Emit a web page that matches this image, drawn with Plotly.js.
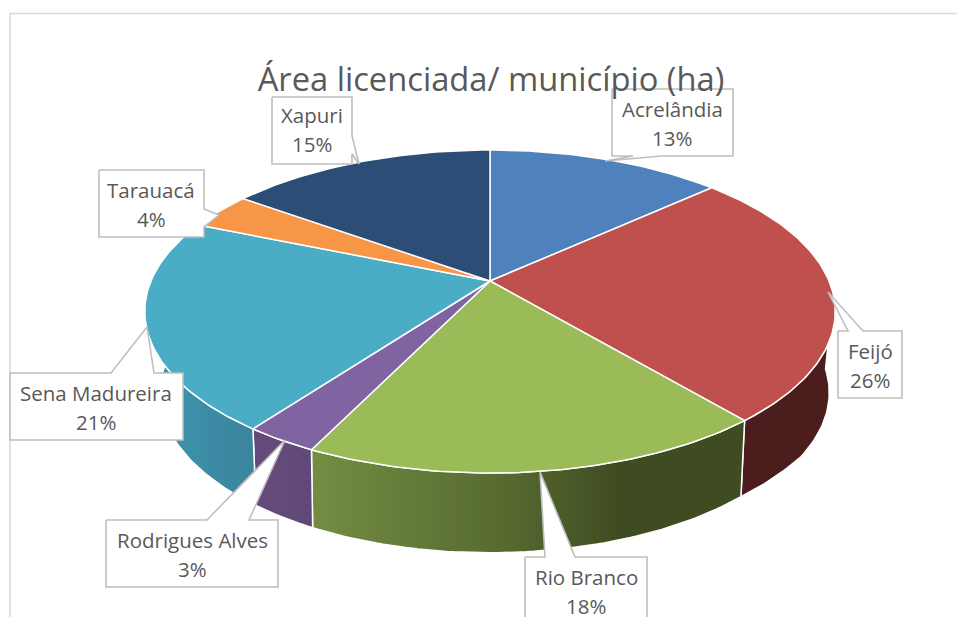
<!DOCTYPE html>
<html>
<head>
<meta charset="utf-8">
<script src="https://cdn.plot.ly/plotly-3.0.1.min.js"></script>
<style>html,body{margin:0;padding:0;background:#fff;overflow:hidden}#chart{width:957px;height:617px}</style>
</head>
<body>
<div id="chart"></div>
<script>
// ---- data ----
const categories = ['Acrelândia', 'Feijó', 'Rio Branco', 'Rodrigues Alves', 'Sena Madureira', 'Tarauacá', 'Xapuri'];
const shares = [13.2, 25.7, 18.3, 2.9, 21.2, 3.7, 15.0];
const topColors = ['#4f81bd', '#c0504d', '#9bbb59', '#8064a2', '#4bacc6', '#f79646', '#2c4d75'];

// ---- perspective of the pie, in plot units (axes run 0-957 / 617-0) ----
const topDisc = {cx: 490, cy: 281, f: 339, g: 155.7, k: 0.189};
const lowDisc = {cx: 490, cy: 355.5, f: 321, g: 151.5, k: 0.232, bulge: 9};
function project(d, deg) {
  const t = deg * Math.PI / 180, w = 1 + d.k * Math.cos(t);
  // the far right of the lower rim sits slightly further out in the picture
  const extra = d.bulge && deg < 140.4 ? d.bulge * Math.min(1, (140.4 - deg) / 15) : 0;
  return [d.cx + (d.f + extra) * Math.sin(t) / w, d.cy - d.g * Math.cos(t) / w];
}
function arc(d, a, b) {
  const n = Math.max(2, Math.ceil(Math.abs(b - a))), pts = [];
  for (let i = 0; i <= n; i++) pts.push(project(d, a + (b - a) * i / n));
  return pts;
}
const total = shares.reduce((s, v) => s + v, 0);
let run = 0;
const spans = shares.map(v => { const a = run / total * 360; run += v; return [a, run / total * 360]; });

const traces = [];
// side wall: only the parts of the pie that face the viewer
const sideSpec = {
  1: {from: 95, scale: [[0, '#4b1e1d'], [1, '#4b1e1d']], start: 739, stop: 834},
  2: {scale: [[0, '#738c42'], [0.45, '#566a30'], [0.72, '#3f4b21'], [1, '#3f4b21']], start: 317, stop: 739},
  3: {scale: [[0, '#654b7c'], [1, '#5f4877']], start: 258, stop: 317},
  4: {to: 285, scale: [[0, '#3f96ae'], [1, '#3a839d']], start: 150, stop: 258}
};
Object.keys(sideSpec).forEach(i => {
  const sp = sideSpec[i];
  const a = sp.from !== undefined ? sp.from : spans[i][0];
  const b = sp.to !== undefined ? sp.to : spans[i][1];
  const poly = arc(topDisc, a, b).concat(arc(lowDisc, b, a));
  poly.push(poly[0]);
  traces.push({
    type: 'scatter', mode: 'lines', name: categories[i] + ' (lado)',
    x: poly.map(p => p[0]), y: poly.map(p => p[1]),
    fill: 'toself',
    fillgradient: {type: 'horizontal', colorscale: sp.scale, start: sp.start, stop: sp.stop},
    line: {color: '#ffffff', width: 1.5}, hoverinfo: 'skip', showlegend: false
  });
});
// top face
categories.forEach((c, i) => {
  const poly = [[topDisc.cx, topDisc.cy]].concat(arc(topDisc, spans[i][0], spans[i][1]));
  poly.push(poly[0]);
  traces.push({
    type: 'scatter', mode: 'lines', name: c,
    x: poly.map(p => p[0]), y: poly.map(p => p[1]),
    fill: 'toself', fillcolor: topColors[i],
    line: {color: '#ffffff', width: 1.5}, hoverinfo: 'skip', showlegend: false
  });
});
// callouts: outline (box with wedge) and text centre per category
const calloutX = [
  [612, 733, 733, 662, 605, 633, 612, 612],
  [838, 848, 828, 863, 902, 902, 838, 838],
  [525, 545, 540, 575, 647, 647, 525, 525],
  [106, 207, 285, 249, 278, 278, 106, 106],
  [10, 111, 147, 154, 183, 183, 10, 10],
  [99, 204, 204, 219, 204, 204, 99, 99],
  [272, 352, 352, 359, 352, 352, 272, 272]
];
const calloutY = [
  [89, 89, 156, 156, 161, 156, 156, 89],
  [331, 331, 292, 331, 331, 398, 398, 331],
  [557, 557, 472, 557, 557, 640, 640, 557],
  [520, 520, 440, 520, 520, 587, 587, 520],
  [373, 373, 327, 373, 373, 440, 440, 373],
  [170, 170, 209, 215, 227, 237, 237, 170],
  [97, 97, 136, 164, 154, 164, 164, 97]
];
const labelX = [672, 870, 586, 192, 96, 151, 312];
const labelY = [109, 351, 577, 540, 393, 190, 115];
const annotations = [];
categories.forEach((c, i) => {
  traces.push({
    type: 'scatter', mode: 'lines', name: c + ' (rótulo)',
    x: calloutX[i], y: calloutY[i], fill: 'toself', fillcolor: '#ffffff',
    line: {color: '#bfbfbf', width: 1.6}, hoverinfo: 'skip', showlegend: false
  });
  const base = {xref: 'x', yref: 'y', x: labelX[i], showarrow: false, xanchor: 'center', yanchor: 'middle',
    font: {family: '"Open Sans", sans-serif', size: 20.5, color: '#595959'}};
  annotations.push(Object.assign({}, base, {y: labelY[i], text: c}));
  annotations.push(Object.assign({}, base, {y: labelY[i] + 29, text: Math.round(shares[i] / total * 100) + '%'}));
});

const frameColor = '#d9d9d9';
const layout = {
  width: 957, height: 617,
  margin: {l: 0, r: 0, t: 0, b: 0},
  paper_bgcolor: '#ffffff', plot_bgcolor: '#ffffff', showlegend: false,
  title: {
    text: 'Área licenciada/ município (ha)',
    x: 491 / 957, xref: 'container', xanchor: 'center',
    y: 1 - 80 / 617, yref: 'container', yanchor: 'middle',
    font: {family: '"Open Sans", sans-serif', size: 32.7, color: '#595959'}
  },
  xaxis: {range: [0, 957], visible: false, fixedrange: true},
  yaxis: {range: [617, 0], visible: false, fixedrange: true},
  annotations: annotations,
  shapes: [
    {type: 'line', xref: 'x', yref: 'y', x0: 10, y0: 13.5, x1: 957, y1: 13.5, line: {color: frameColor, width: 1.5}, layer: 'below'},
    {type: 'line', xref: 'x', yref: 'y', x0: 10, y0: 13.5, x1: 10, y1: 617, line: {color: frameColor, width: 1.5}, layer: 'below'}
  ]
};
Plotly.newPlot('chart', traces, layout, {displayModeBar: false, staticPlot: true});
</script>
</body>
</html>
